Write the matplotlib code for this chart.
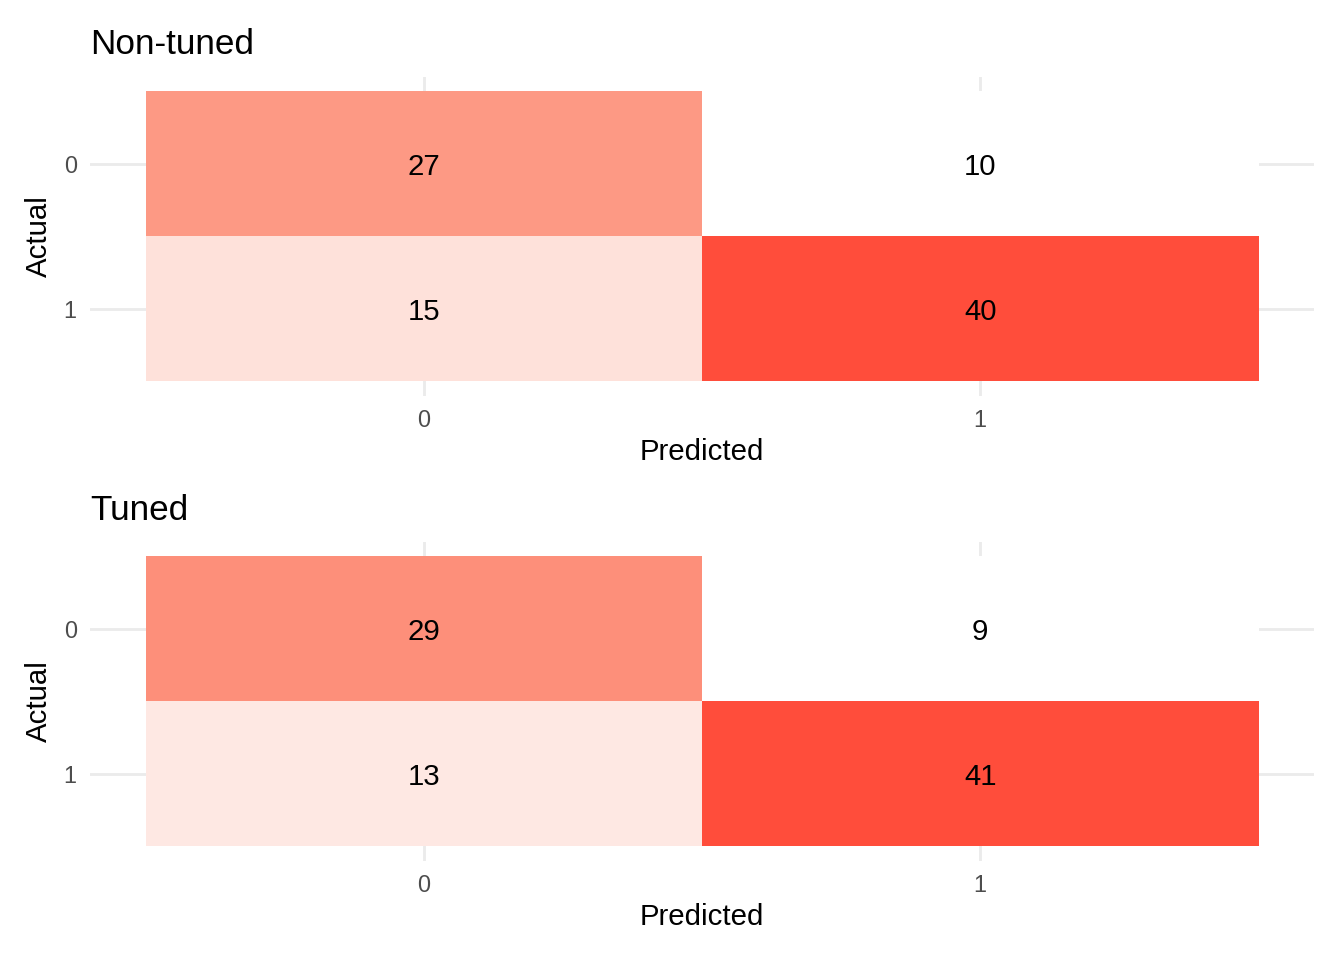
import numpy as np
import matplotlib.pyplot as plt
from matplotlib.colors import LinearSegmentedColormap

plt.rcParams['font.family'] = ['Liberation Sans', 'DejaVu Sans']

classes = ['0', '1']
titles = ['Non-tuned', 'Tuned']
# rows = Actual (0, 1), cols = Predicted (0, 1)
cm_nontuned = [[27, 10],
               [15, 40]]
cm_tuned = [[29, 9],
            [13, 41]]

# white -> red, with a midpoint to imitate ggplot's Lab interpolation
cmap = LinearSegmentedColormap.from_list(
    'wt', [(0, '#FFFFFF'), (0.5, '#FDA690'), (1, '#FF4D3B')])
GRID = '#EBEBEB'


def draw_cm(ax, cm, title, fig, title_y):
    cm = np.array(cm)
    n = len(classes)
    for v in range(n):
        ax.axvline(v, color=GRID, lw=1.07, zorder=0)
        ax.axhline(v, color=GRID, lw=1.07, zorder=0)
    ax.imshow(cm, cmap=cmap, vmin=cm.min(), vmax=cm.max(),
              extent=(-0.5, n - 0.5, n - 0.5, -0.5), aspect='auto',
              interpolation='nearest', zorder=1)
    for i in range(n):
        for j in range(n):
            ax.text(j, i, str(cm[i, j]), ha='center', va='center_baseline',
                    fontsize=11, color='black', zorder=2)
    ax.set_xticks(range(n))
    ax.set_xticklabels(classes)
    ax.set_yticks(range(n))
    ax.set_yticklabels(classes)
    ax.tick_params(length=0, labelsize=8.8, labelcolor='#4D4D4D')
    ax.tick_params(axis='x', pad=5)
    ax.tick_params(axis='y', pad=5)
    for s in ax.spines.values():
        s.set_visible(False)
    ax.set_xlabel('Predicted', fontsize=11, labelpad=2)
    ax.set_ylabel('Actual', fontsize=11, labelpad=4)
    ax.set_xlim(-0.6, n - 1 + 0.6)
    ax.set_ylim(n - 1 + 0.6, -0.6)
    fig.text(90 / 1344, title_y, title, fontsize=13.2, ha='left', va='center')


fig = plt.figure(figsize=(7, 5), dpi=192)
left = 90 / 1344
width = (1314 - 90) / 1344
height = 319 / 960
ax1 = fig.add_axes([left, 1 - 396 / 960, width, height])
ax2 = fig.add_axes([left, 1 - 861 / 960, width, height])

draw_cm(ax1, cm_nontuned, titles[0], fig, 1 - 45 / 960)
draw_cm(ax2, cm_tuned, titles[1], fig, 1 - 510 / 960)

fig.savefig('out.png', dpi=192, facecolor='white')
